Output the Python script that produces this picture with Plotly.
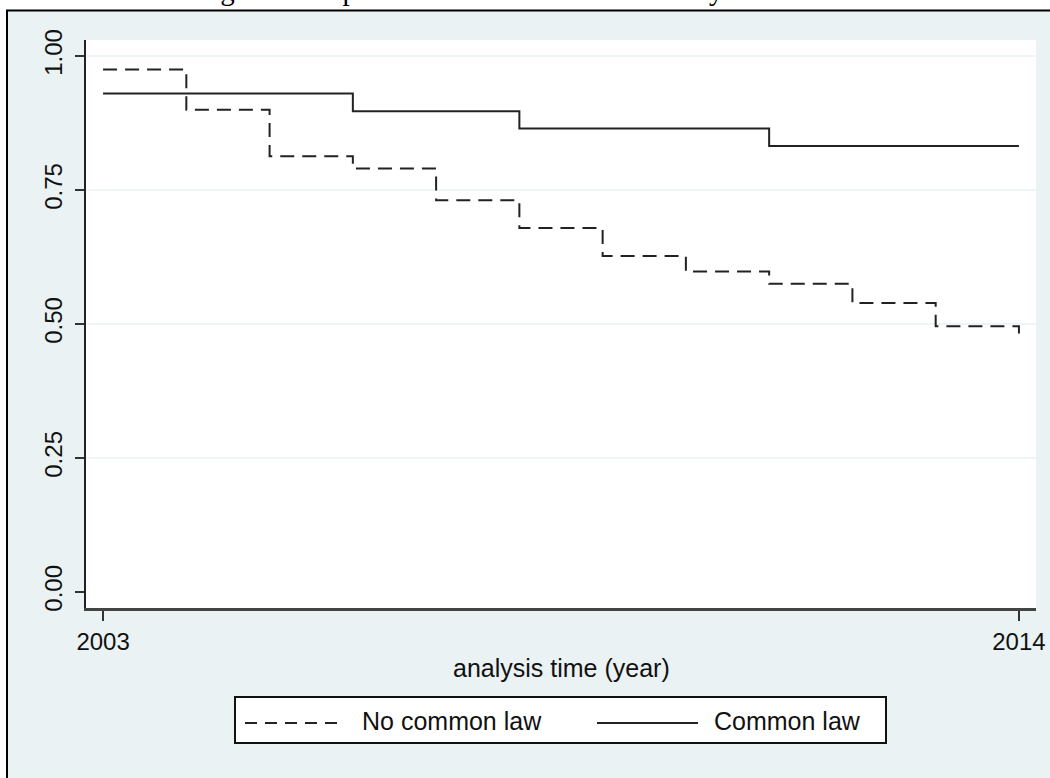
import plotly.graph_objects as go

# ---- data ----
no_cl_years = [2003, 2004, 2005, 2006, 2007, 2008, 2009, 2010, 2011, 2012, 2013, 2014]
no_cl_surv = [0.975, 0.900, 0.813, 0.790, 0.731, 0.679, 0.627, 0.598, 0.575, 0.539, 0.496, 0.476]

cl_years = [2003, 2006, 2008, 2011, 2014]
cl_surv = [0.930, 0.897, 0.865, 0.832, 0.832]

y_ticks = [0.0, 0.25, 0.5, 0.75, 1.0]
y_ticktext = ["0.00", "0.25", "0.50", "0.75", "1.00"]
grid_values = [0.25, 0.5, 0.75, 1.0]
x_ticks = [2003, 2014]
x_ticktext = ["2003", "2014"]

series_names = ["No common law", "Common law"]
x_title = "analysis time (year)"
fig_title = "Figure 4: Kaplan-Meier survival estimates by common law"

# ---- layout geometry (pixels) ----
W, H = 1050, 778
L, R, T, B = 86, 14, 40, 170
PW, PH = W - L - R, H - T - B
BG = "#EAF2F3"
FONT = "Liberation Sans, Arial, sans-serif"


def px(x):
    return (x - L) / PW


def py(y):
    return (H - B - y) / PH


fig = go.Figure()
fig.add_trace(go.Scatter(
    x=no_cl_years, y=no_cl_surv, mode="lines", line_shape="hv",
    line=dict(color="#222222", width=2, dash="14px,8px"),
    name=series_names[0], showlegend=False))
fig.add_trace(go.Scatter(
    x=cl_years, y=cl_surv, mode="lines", line_shape="hv",
    line=dict(color="#222222", width=2),
    name=series_names[1], showlegend=False))

shapes = []
# gridlines (not at min tick, as in Stata)
for g in grid_values:
    shapes.append(dict(type="line", xref="paper", yref="y", x0=0, x1=1, y0=g, y1=g,
                       line=dict(color=BG, width=1.5), layer="below"))
# white strips outside the outer frame
shapes.append(dict(type="rect", xref="paper", yref="paper", x0=px(-20), x1=px(W + 20),
                   y0=py(-20), y1=py(9.5), fillcolor="white", line_width=0, layer="above"))
shapes.append(dict(type="rect", xref="paper", yref="paper", x0=px(-20), x1=px(6),
                   y0=py(H + 20), y1=py(-20), fillcolor="white", line_width=0, layer="above"))
# outer frame (top and left edges visible)
shapes.append(dict(type="line", xref="paper", yref="paper", x0=px(6), x1=px(W + 20),
                   y0=py(10.5), y1=py(10.5), line=dict(color="black", width=2), layer="above"))
shapes.append(dict(type="line", xref="paper", yref="paper", x0=px(7), x1=px(7),
                   y0=py(10.5), y1=py(H + 20), line=dict(color="black", width=2), layer="above"))
# legend box
shapes.append(dict(type="rect", xref="paper", yref="paper", x0=px(235), x1=px(886),
                   y0=py(743), y1=py(697), fillcolor="white",
                   line=dict(color="#111111", width=2), layer="above"))
shapes.append(dict(type="line", xref="paper", yref="paper", x0=px(245), x1=px(345),
                   y0=py(723), y1=py(723),
                   line=dict(color="#222222", width=2, dash="12px,8px"), layer="above"))
shapes.append(dict(type="line", xref="paper", yref="paper", x0=px(597), x1=px(698),
                   y0=py(723), y1=py(723),
                   line=dict(color="#222222", width=2), layer="above"))

annotations = [
    dict(text=series_names[0], xref="paper", yref="paper", x=px(360), y=py(721),
         xanchor="left", yanchor="middle", showarrow=False,
         font=dict(family=FONT, size=25, color="#111111")),
    dict(text=series_names[1], xref="paper", yref="paper", x=px(712), y=py(721),
         xanchor="left", yanchor="middle", showarrow=False,
         font=dict(family=FONT, size=25, color="#111111")),
    dict(text=x_title, xref="paper", yref="paper", x=0.5, y=py(668),
         xanchor="center", yanchor="middle", showarrow=False,
         font=dict(family=FONT, size=25, color="#111111")),
    dict(text=fig_title, xref="paper", yref="paper", x=px(538), y=py(-10),
         xanchor="center", yanchor="middle", showarrow=False,
         font=dict(family="Liberation Serif, Times New Roman, serif", size=29, color="black")),
]

fig.update_layout(
    width=W, height=H,
    margin=dict(l=L, r=R, t=T, b=B, pad=0, autoexpand=False),
    paper_bgcolor=BG, plot_bgcolor="white",
    showlegend=False,
    shapes=shapes, annotations=annotations,
    xaxis=dict(range=[2002.795, 2014.205], tickmode="array", tickvals=x_ticks,
               ticktext=x_ticktext, showgrid=False, zeroline=False, automargin=False,
               showline=True, linecolor="#444444", linewidth=2.5,
               ticks="outside", ticklen=10, tickwidth=1.5, tickcolor="#333333",
               tickfont=dict(family=FONT, size=24, color="#111111")),
    yaxis=dict(range=[-0.03, 1.03], tickmode="array", tickvals=y_ticks,
               ticktext=y_ticktext, showgrid=False, zeroline=False, automargin=False,
               showline=True, linecolor="#222222", linewidth=2,
               ticks="outside", ticklen=9, tickwidth=1.5, tickcolor="#333333",
               tickangle=-90, ticklabelstandoff=3,
               tickfont=dict(family=FONT, size=24, color="#111111")),
)

fig.write_html("out.html")
